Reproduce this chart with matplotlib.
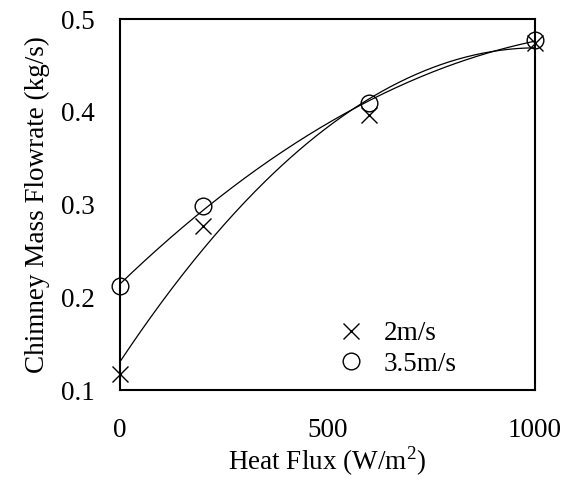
import numpy as np
import matplotlib
matplotlib.use("Agg")
import matplotlib.pyplot as plt

plt.rcParams['font.family'] = ['Liberation Serif', 'DejaVu Serif']
plt.rcParams['mathtext.fontset'] = 'custom'
plt.rcParams['mathtext.rm'] = 'Liberation Serif'

heat_flux = [0, 200, 600, 1000]
flow_2ms = [0.117, 0.277, 0.397, 0.474]
flow_35ms = [0.212, 0.298, 0.409, 0.477]
series_labels = ['2m/s', '3.5m/s']
x_ticks = [0, 500, 1000]
y_ticks = [0.1, 0.2, 0.3, 0.4, 0.5]

FS = 19.5

fig = plt.figure(figsize=(5.73, 4.79), dpi=100)
ax = fig.add_axes([0.2094, 0.1858, 0.7243, 0.7745])

xs = np.linspace(0, 1000, 200)
for ys in (flow_2ms, flow_35ms):
    c = np.polyfit(heat_flux, ys, 2)
    ax.plot(xs, np.polyval(c, xs), color='black', lw=0.9)

ax.plot(heat_flux, flow_2ms, ls='none', marker='x', ms=12, mew=1.0,
        color='black', label=series_labels[0], clip_on=False)
ax.plot(heat_flux, flow_35ms, ls='none', marker='o', ms=12, mew=1.0,
        mfc='none', mec='black', label=series_labels[1], clip_on=False)

ax.set_xlim(0, 1000)
ax.set_ylim(0.1, 0.5)
ax.set_xticks(x_ticks)
ax.set_yticks(y_ticks)
ax.set_yticklabels([f'{v:.1f}' for v in y_ticks])
ax.tick_params(axis='both', length=0, labelsize=FS)
ax.tick_params(axis='x', pad=20)
ax.tick_params(axis='y', pad=18)
for s in ax.spines.values():
    s.set_linewidth(1.5)

ax.set_xlabel(r'Heat Flux (W/m$^{2}$)', fontsize=FS, labelpad=1)
ax.set_ylabel('Chimney Mass Flowrate (kg/s)', fontsize=FS, labelpad=8)

leg = ax.legend(loc='center', bbox_to_anchor=(0.668, 0.11), frameon=False,
                fontsize=FS, handlelength=1.0, handletextpad=0.7,
                labelspacing=0.2, borderpad=0)

fig.savefig('out.png', dpi=100)
